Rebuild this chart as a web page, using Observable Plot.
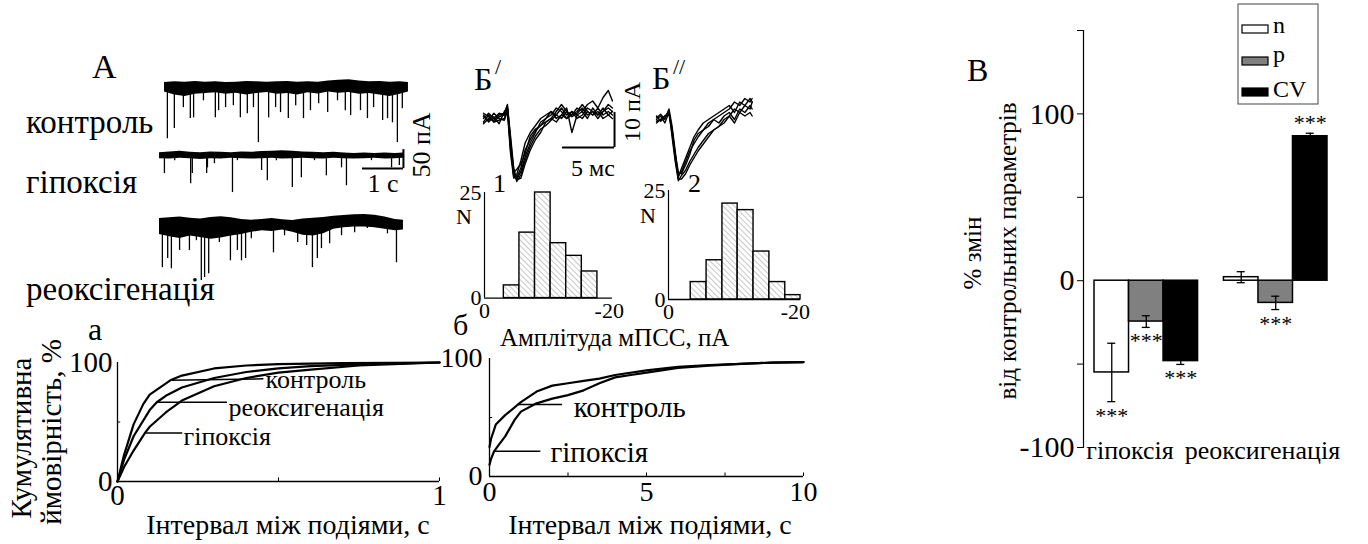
<!DOCTYPE html>
<html><head><meta charset="utf-8">
<script src="https://cdn.jsdelivr.net/npm/d3@7"></script>
<script src="https://cdn.jsdelivr.net/npm/@observablehq/plot@0.6"></script>
<style>
html,body{margin:0;padding:0;background:#fff;}
#fig{position:relative;width:1368px;height:544px;overflow:hidden;background:#fff;color:#000;}
#fig svg{position:absolute;overflow:visible;}
</style></head>
<body>
<svg width="0" height="0" style="position:absolute"><defs>
<pattern id="hatch" width="4" height="4" patternUnits="userSpaceOnUse" patternTransform="rotate(-45)">
<rect width="4" height="4" fill="#fff"/><line x1="0" y1="0" x2="0" y2="4" stroke="#9a9a9a" stroke-width="1.1"/>
</pattern></defs></svg>
<div id="fig"></div>
<script>
// ================= DATA =================
// Panel A: recordings (time s, current pA); envelope of noise band + individual events
const envT = [0,0.25,0.5,0.75,1,1.25,1.5,1.75,2,2.25,2.5,2.75,3,3.25,3.5,3.75,4,4.25,4.5,4.75,5,5.25,5.5,5.75,5.95];
const ctrlUp = [11,13,12,14,12,13,11,12,14,13,12,13,14,12,13,12,15,17,18,15,13,14,12,13,11];
const ctrlLo = [-14,-22,-26,-20,-18,-16,-20,-17,-22,-18,-15,-20,-18,-22,-16,-19,-14,-17,-15,-20,-18,-22,-26,-20,-14];
const hypUp = [8,10,12,9,8,10,9,8,10,9,11,12,13,12,10,9,8,9,7,6,7,6,7,6,7];
const hypLo = [-8,-9,-7,-8,-10,-8,-9,-7,-8,-9,-8,-7,-9,-8,-7,-8,-9,-7,-8,-9,-8,-7,-9,-8,-7];
const reoxUp = [16,18,20,17,15,19,21,18,14,12,14,16,13,11,15,17,19,22,24,26,27,25,20,14,12];
const reoxLo = [-26,-32,-36,-30,-34,-38,-35,-30,-26,-20,-16,-18,-14,-20,-28,-30,-24,-12,-8,-6,-6,-8,-12,-16,-14];
const ctrlSpikeT = [0.07,0.24,0.46,0.63,0.71,0.95,1.24,1.32,1.49,1.68,1.85,2.02,2.17,2.29,2.54,2.71,2.83,3.02,3.20,3.39,3.56,3.76,3.98,4.22,4.41,4.54,4.78,4.95,5.10,5.32,5.44,5.56,5.68,5.80];
const ctrlSpikeA = [-137,-110,-55,-84,-82,-37,-82,-63,-55,-50,-82,-71,-55,-147,-82,-55,-68,-84,-50,-84,-63,-45,-68,-37,-63,-76,-63,-84,-55,-89,-84,-95,-147,-58];
const hypSpikeT = [0.12,0.37,0.76,0.80,1.15,1.17,1.34,1.78,1.90,2.49,2.63,2.85,3.24,3.46,3.78,4.07,4.44,4.56,5.17,5.66,5.85];
const hypSpikeA = [-47,-13,-74,-47,-47,-32,-21,-97,-13,-39,-66,-13,-84,-58,-13,-53,-32,-79,-13,-32,-26];
const reoxSpikeT = [0.07,0.20,0.29,0.49,0.73,0.90,1.02,1.10,1.20,1.29,1.46,1.73,1.90,2.00,2.10,2.24,2.78,3.05,3.37,3.59,3.73,3.85,3.95,4.15,4.44,4.76,5.07,5.56,5.78];
const reoxSpikeA = [-113,-89,-116,-68,-68,-42,-147,-139,-129,-37,-47,-95,-68,-95,-89,-37,-74,-29,-47,-55,-113,-89,-63,-50,-29,-21,-10,-24,-100];
const scaleA = {t: 1, pA: 50};

// Panel Б: superimposed mPSCs (time ms, current pA)
const tB1 = [0,0.5,1,1.5,2,2.3,2.6,2.9,3.2,3.6,4,4.5,5,5.5,6,6.5,7,7.5,8,8.5,9,9.5,10,10.5,11,11.5,12,12.4];
const tracesB1 = [
 [1,-1,0.5,-1.5,2,3,-8,-16,-17,-14,-9,-6,-3.5,-2,-1,0,-1,1,0,2,1,0,2,1,3,1,2,1],
 [-1,1,-1,0.5,1,3.5,-5,-14,-18,-16,-12,-8,-5,-3,-2,-0.5,1,0,2,0.5,1.5,3,1,2,0,2,3,2],
 [0.5,-0.5,1.5,0,-0.5,2,-10,-17,-16,-12,-7,-4,-2,0,1,2,1,3,1,2,0,1,3,2,1,3,1,0],
 [-1.5,0,-0.5,1,1.5,4,-6,-15,-17.5,-15,-11,-7,-4,-1,0,1,3,2,0,1,2,4,2,1,2,0,1,2],
 [1.5,0.5,-1,-0.5,0,2.5,-9,-15.5,-14.5,-13,-10,-5,-3,-2,0,2,0,1,3,-4,1,2,0,3,1,2,4,3],
 [0,1.5,0,1.5,1,3,-7,-16.5,-17.5,-17,-13,-9,-6,-4,-1,0,2,4,2,1,3,2,4,5,3,6,8,5]
];
const tB2 = [0,0.4,0.8,1.2,1.5,1.8,2.1,2.4,2.8,3.2,3.6,4,4.5,5,5.5,6,6.5,7,7.5,8,8.5,9,9.2];
const tracesB2 = [
 [0,1,-1,2,-3,-10,-16,-15,-12,-9,-7,-5,-3,-2,0,-1,1,2,0,3,2,4,3],
 [1,-0.5,0.5,2.5,-5,-12,-17.5,-16,-14.5,-12,-10,-8,-6,-4,-3,-2,0,1,3,2,4,3,5],
 [-1,0,1,1.5,-4,-11,-17,-17,-15.5,-13,-11,-9,-7,-5,-3,-2,-1,1,-1,2,1,2,1],
 [0.5,1.5,0,3,-2,-9,-16.5,-14,-11,-8,-5,-3,-1,0,1,2,3,4,2,5,4,6,5],
 [-0.5,0,1,2,-3,-10,-15,-15.5,-13,-10,-6,-4,-3,-1,0,1,2,3,5,4,6,5,6]
];
const scaleB = {ms: 5, pA: 10};

// Histograms of amplitudes (bin edges in pA, counts)
const hist1Edges = [-3.1,-5.6,-8.1,-10.6,-13.1,-15.6,-18.1];
const hist1Counts = [3,15.5,25,13,10,6.3];
const hist2Edges = [-3.5,-6,-8.5,-10.9,-13.4,-15.9,-18.4,-20.8];
const hist2Counts = [4,9,22,20.5,11,4,1];

// Cumulative distributions, panel a (s, %)
const cumAx_ctrl = [0,0.02,0.05,0.08,0.1,0.164,0.2,0.3,0.4,0.5,0.7,1];
const cumAy_ctrl = [0,22,48,65,73,85,89,95,97.5,98.7,99.5,100];
const cumAx_reox = [0,0.02,0.05,0.1,0.122,0.15,0.2,0.3,0.4,0.5,0.6,0.75,1];
const cumAy_reox = [0,18,38,60,66.6,72,79,87,92,95,97,98.5,100];
const cumAx_hyp = [0,0.02,0.05,0.086,0.1,0.15,0.2,0.3,0.4,0.5,0.6,0.75,0.9,1];
const cumAy_hyp = [0,12,26,41,46,58,68,80,87,91.5,94,97.5,99,100];
// panel б (s, %)
const cumBx_ctrl = [0,0.05,0.2,0.5,1,1.5,2,2.5,3,3.5,4,5,6,7,8,9,10];
const cumBy_ctrl = [25,32,44,52,63,72,77,79,81,83,86,90,93,94.5,95.5,96.5,97];
const cumBx_hyp = [0,0.05,0.14,0.3,0.5,0.8,1,1.5,2,2.5,3,3.5,4,4.5,5,6,7,8,9,10];
const cumBy_hyp = [10,15,21,27,34,48,55,62,66,69,73,79,84,86,88,92,94,95.5,96.5,97];

// Label anchors (data units)
const leadA = [
 {x1:0.164,y1:85,x2:0.453,y2:86.3,tx:0.46,ty:85.5,label:"контроль"},
 {x1:0.122,y1:66.6,x2:0.34,y2:66.6,tx:0.345,ty:62,label:"реоксигенація"},
 {x1:0.086,y1:40.7,x2:0.201,y2:40.7,tx:0.205,ty:37.5,label:"гіпоксія"}
];
const leadB = [
 {x1:0.88,y1:61,x2:2.31,y2:61,tx:2.68,ty:58.5,label:"контроль"},
 {x1:0.14,y1:21.4,x2:1.62,y2:21.4,tx:1.94,ty:20.3,label:"гіпоксія"}
];

// Panel В: % change of control parameters
const groups = ["гіпоксія","реоксигенація"];
const series = ["n","p","CV"];
const seriesFill = ["#ffffff","#808080","#000000"];
const valHyp = [-55,-24.5,-48.2];
const errHyp = [17.5,3.5,2];
const valReox = [2.1,-13.3,86.6];
const errReox = [3.3,4,1.8];
const sigHyp = ["***","***","***"];
const sigReox = ["","***","***"];
const yTicksV = [-100,-50,0,50,100,150];
const yLabelsV = [-100,0,100];

// ================= FONT PICK =================
function fontExists(name) {
  const c = document.createElement("canvas").getContext("2d");
  const s = "контроль мПСС 0123 Інтервал WMiil";
  c.font = "40px monospace"; const wm = c.measureText(s).width;
  c.font = `40px "${name}", monospace`; const w1 = c.measureText(s).width;
  return Math.abs(w1 - wm) > 0.5;
}
const serifCandidates = ["Liberation Serif", "DejaVu Serif", "Tinos", "Noto Serif", "FreeSerif", "Times New Roman"];
const serifFound = serifCandidates.find(fontExists);
const FONT = serifFound ? `"${serifFound}", serif` : '"Liberation Sans", Arial, sans-serif';
document.getElementById("fig").style.fontFamily = FONT;

// ================= RENDER =================
const fig = document.getElementById("fig");
function put(box, m, opts) {
  const [mt, mr, mb, ml] = m;
  const svg = Plot.plot({
    width: box.x1 - box.x0 + ml + mr,
    height: box.y1 - box.y0 + mt + mb,
    marginTop: mt, marginRight: mr, marginBottom: mb, marginLeft: ml,
    style: {background: "transparent", overflow: "visible", fontFamily: FONT, color: "black"},
    ...opts
  });
  svg.style.position = "absolute";
  svg.style.left = (box.x0 - ml) + "px";
  svg.style.top = (box.y0 - mt) + "px";
  svg.style.fontFamily = FONT;
  fig.appendChild(svg);
  return svg;
}
const zipEnv = (up, lo) => envT.map((t, i) => ({t, hi: up[i], lo: lo[i]}));
const zipSpk = (T, A) => T.map((t, i) => ({t, a: A[i]}));
const fmt = d => String(d);

// ---- A traces ----
const pxPerS = 41, pxPerPA = 0.38;
function trace(left, base, env, spikes, extra = []) {
  const box = {x0: left, x1: left + 6 * pxPerS, y0: base - 40 * pxPerPA, y1: base + 160 * pxPerPA};
  put(box, [0, 0, 0, 0], {
    x: {domain: [0, 6], axis: null}, y: {domain: [-160, 40], axis: null},
    marks: [
      Plot.areaY(env, {x: "t", y1: "lo", y2: "hi", fill: "black"}),
      Plot.ruleX(spikes, {x: "t", y1: 0, y2: "a", stroke: "black", strokeWidth: 1.3}),
      ...extra
    ]
  });
}
trace(164, 86, zipEnv(ctrlUp, ctrlLo), zipSpk(ctrlSpikeT, ctrlSpikeA));
trace(159, 155, zipEnv(hypUp, hypLo), zipSpk(hypSpikeT, hypSpikeA), [
  Plot.ruleY([-34], {x1: 5.95 - scaleA.t, x2: 5.95, stroke: "black", strokeWidth: 2}),
  Plot.ruleX([5.95], {y1: -34, y2: -34 + scaleA.pA, stroke: "black", strokeWidth: 2})
]);
trace(159, 224, zipEnv(reoxUp, reoxLo), zipSpk(reoxSpikeT, reoxSpikeA));

// ---- Б traces ----
const pxPerMs = 10.4, pxPerPA2 = 3.5;
function mpsc(left, base, T, traces, extra = []) {
  const rows = traces.flatMap((tr, k) => tr.map((v, i) => ({t: T[i], v, k})));
  const tmax = T[T.length - 1];
  const box = {x0: left, x1: left + tmax * pxPerMs, y0: base - 8 * pxPerPA2, y1: base + 19 * pxPerPA2};
  put(box, [0, 0, 0, 0], {
    x: {domain: [0, tmax], axis: null}, y: {domain: [-19, 8], axis: null},
    marks: [Plot.line(rows, {x: "t", y: "v", z: "k", stroke: "black", strokeWidth: 1.4}), ...extra]
  });
}
mpsc(483, 118, tB1, tracesB1, [
  Plot.ruleY([-8.3], {x1: 12.6 - scaleB.ms, x2: 12.6, stroke: "black", strokeWidth: 2}),
  Plot.ruleX([12.6], {y1: -8.3, y2: -8.3 + scaleB.pA, stroke: "black", strokeWidth: 2})
]);
mpsc(656, 119, tB2, tracesB2);

// ---- histograms ----
function hist(box, edges, counts, xmax) {
  const bins = counts.map((c, i) => ({x1: edges[i], x2: edges[i + 1], c}));
  put(box, [6, 12, 28, 30], {
    x: {domain: [0, -xmax], axis: null, label: null}, y: {domain: [0, 25], axis: null, label: null},
    marks: [
      Plot.rectY(bins, {x1: "x1", x2: "x2", y: "c", fill: "url(#hatch)", stroke: "black", strokeWidth: 1.4}),
      Plot.ruleX([0], {y1: 0, y2: 25, stroke: "black", strokeWidth: 1.2}),
      Plot.ruleY([0], {x1: 0, x2: -xmax, stroke: "black", strokeWidth: 1.4}),
      Plot.axisX([0, -20], {tickSize: 0, tickPadding: 4, fontSize: 22, tickFormat: fmt, label: null}),
      Plot.axisY([0, 25], {tickSize: 0, tickPadding: 3, fontSize: 22, tickFormat: fmt, label: null})
    ]
  });
}
hist({x0: 484.3, x1: 612.2, y0: 191.7, y1: 297.3}, hist1Edges, hist1Counts, 20.5);
hist({x0: 668, x1: 800, y0: 190, y1: 299}, hist2Edges, hist2Counts, 20.8);

// ---- cumulative plots ----
const pts = (X, Y) => X.map((x, i) => ({x, y: Y[i]}));
put({x0: 117, x1: 439, y0: 362, y1: 481}, [10, 20, 40, 45], {
  x: {domain: [0, 1], axis: null, label: null}, y: {domain: [0, 100], axis: null, label: null},
  marks: [
    Plot.line(pts(cumAx_hyp, cumAy_hyp), {x: "x", y: "y", stroke: "black", strokeWidth: 2.2}),
    Plot.line(pts(cumAx_reox, cumAy_reox), {x: "x", y: "y", stroke: "black", strokeWidth: 2.2}),
    Plot.line(pts(cumAx_ctrl, cumAy_ctrl), {x: "x", y: "y", stroke: "black", strokeWidth: 2.2}),
    Plot.ruleX([0], {y1: 0, y2: 100, stroke: "black", strokeWidth: 1.3}),
    Plot.ruleY([0], {x1: 0, x2: 1, stroke: "black", strokeWidth: 1.3}),
    Plot.ruleX([0.5, 1], {y1: 0, y2: 3, stroke: "black"}),
    Plot.ruleY([50], {x1: 0, x2: 0.01, stroke: "black"}),
    Plot.link(leadA, {x1: "x1", y1: "y1", x2: "x2", y2: "y2", stroke: "black", strokeWidth: 1.5}),
    Plot.text(leadA, {x: "tx", y: "ty", text: "label", textAnchor: "start", fontSize: 26}),
    Plot.axisX([0, 1], {tickSize: 0, tickPadding: 3, fontSize: 29, tickFormat: fmt, label: null}),
    Plot.axisY([0, 100], {tickSize: 0, tickPadding: 5, fontSize: 29, tickFormat: fmt, label: null})
  ]
});
put({x0: 489, x1: 803, y0: 358, y1: 476}, [10, 20, 40, 50], {
  x: {domain: [0, 10], axis: null, label: null}, y: {domain: [0, 100], axis: null, label: null},
  marks: [
    Plot.line(pts(cumBx_hyp, cumBy_hyp), {x: "x", y: "y", stroke: "black", strokeWidth: 2.2}),
    Plot.line(pts(cumBx_ctrl, cumBy_ctrl), {x: "x", y: "y", stroke: "black", strokeWidth: 2.2}),
    Plot.ruleX([0], {y1: 0, y2: 100, stroke: "black", strokeWidth: 1.3}),
    Plot.ruleY([0], {x1: 0, x2: 10, stroke: "black", strokeWidth: 1.3}),
    Plot.ruleX([2.5, 5, 7.5, 10], {y1: 0, y2: 3, stroke: "black"}),
    Plot.ruleY([50], {x1: 0, x2: 0.1, stroke: "black"}),
    Plot.link(leadB, {x1: "x1", y1: "y1", x2: "x2", y2: "y2", stroke: "black", strokeWidth: 1.5}),
    Plot.text(leadB, {x: "tx", y: "ty", text: "label", textAnchor: "start", fontSize: 29}),
    Plot.axisX([0, 5, 10], {tickSize: 0, tickPadding: 5, fontSize: 28, tickFormat: fmt, label: null}),
    Plot.axisY([0, 100], {tickSize: 0, tickPadding: 7, fontSize: 28, tickFormat: fmt, label: null})
  ]
});

// ---- bar chart В ----
const barRows = [];
groups.forEach((g, gi) => series.forEach((s, si) => {
  const v = gi === 0 ? valHyp[si] : valReox[si];
  const e = gi === 0 ? errHyp[si] : errReox[si];
  const sig = gi === 0 ? sigHyp[si] : sigReox[si];
  barRows.push({group: g, series: s, si, v, e, sig});
}));
const boxV = {x0: 1083, x1: 1338, y0: 30, y1: 447};
const pI = 0.2, pO = 0.085;
const bw = (boxV.x1 - boxV.x0) * (1 - pI) / (groups.length - pI + 2 * pO);
const third = bw / 3;
const barMarks = [];
series.forEach((s, si) => {
  const rows = barRows.filter(d => d.si === si);
  const capIn = third / 2 - 4;
  barMarks.push(
    Plot.barY(rows, {x: "group", y: "v", fill: seriesFill[si], stroke: "black", strokeWidth: 1.5,
      insetLeft: si * third, insetRight: (2 - si) * third}),
    Plot.ruleX(rows, {x: "group", y1: d => d.v - d.e, y2: d => d.v + d.e, dx: (si - 1) * third, stroke: "black", strokeWidth: 1.3}),
    Plot.tickY(rows.flatMap(d => [{group: d.group, y: d.v - d.e}, {group: d.group, y: d.v + d.e}]),
      {x: "group", y: "y", stroke: "black", strokeWidth: 1.3, insetLeft: si * third + capIn, insetRight: (2 - si) * third + capIn}),
    Plot.text(rows.filter(d => d.sig && d.v < 0), {x: "group", y: d => d.v - d.e, text: "sig", dx: (si - 1) * third, dy: 14, fontSize: 22}),
    Plot.text(rows.filter(d => d.sig && d.v >= 0), {x: "group", y: d => d.v + d.e, text: "sig", dx: (si - 1) * third, dy: -10, fontSize: 22})
  );
});
put(boxV, [5, 10, 40, 80], {
  x: {type: "band", domain: groups, paddingInner: pI, paddingOuter: pO, round: false, axis: null, label: null},
  y: {domain: [-100, 150], axis: null, label: null},
  marks: [
    ...barMarks,
    Plot.frame({anchor: "left", stroke: "black", strokeWidth: 1.2}),
    Plot.axisY(yTicksV, {tickSize: 6, tickPadding: 3, fontSize: 30, label: null,
      tickFormat: d => yLabelsV.includes(d) ? String(d) : ""}),
    Plot.text([groups[0]], {x: d => d, y: -100, text: d => d, fontSize: 26, textAnchor: "start", dx: -60, dy: 3}),
    Plot.text([groups[1]], {x: d => d, y: -100, text: d => d, fontSize: 26, textAnchor: "start", dx: -91, dy: 3})
  ]
});

// ---- free labels overlay ----
const ov = d3.select(fig).append("svg").attr("width", 1368).attr("height", 544)
  .style("left", "0px").style("top", "0px").style("font-family", FONT);
function label(txt, x, y, size, anchor = "start", rot = 0) {
  const t = ov.append("text").attr("font-size", size).attr("text-anchor", anchor).attr("fill", "black").text(txt);
  if (rot) t.attr("transform", `translate(${x},${y}) rotate(${rot})`); else t.attr("x", x).attr("y", y);
}
label("А", 92, 78, 34);
label("контроль", 26, 133, 33);
label("гіпоксія", 26, 193, 33);
label("реоксігенація", 26, 300, 33);
label("1 с", 383, 192, 26, "middle");
label("50 пА", 430, 145, 26, "middle", -90);
label("Б", 474, 90, 32); label("/", 495, 74, 22);
label("Б", 652, 89, 32); label("//", 673, 74, 22);
label("10 пА", 640, 112, 24, "middle", -90);
label("5 мс", 593, 176, 24, "middle");
label("1", 493, 192, 26); label("2", 688, 192, 26);
label("N", 456, 224, 22); label("N", 640, 223, 22);
label("Амплітуда мПСС, пА", 500, 346, 25);
label("а", 88, 340, 32);
label("б", 453, 335, 30);
label("Кумулятивна", 31, 438, 29, "middle", -90);
label("ймовірність, %", 61, 432, 29, "middle", -90);
label("Інтервал між подіями, с", 288, 534, 28, "middle");
label("Інтервал між подіями, с", 650, 534, 28, "middle");
label("В", 967, 81, 32);
label("% змін", 981, 253, 25, "middle", -90);
label("від контрольних параметрів", 1016, 251, 25, "middle", -90);
// legend
ov.append("rect").attr("x", 1238).attr("y", 4).attr("width", 80).attr("height", 100).attr("fill", "#fff").attr("stroke", "#444").attr("stroke-width", 1);
const legY = [29, 61, 92], legText = [33, 62, 97];
series.forEach((s, i) => {
  ov.append("rect").attr("x", 1242).attr("y", legY[i] - 4).attr("width", 26).attr("height", 8)
    .attr("fill", seriesFill[i]).attr("stroke", "black").attr("stroke-width", 1.2);
  label(s, 1273, legText[i], 24);
});
</script>
</body></html>
